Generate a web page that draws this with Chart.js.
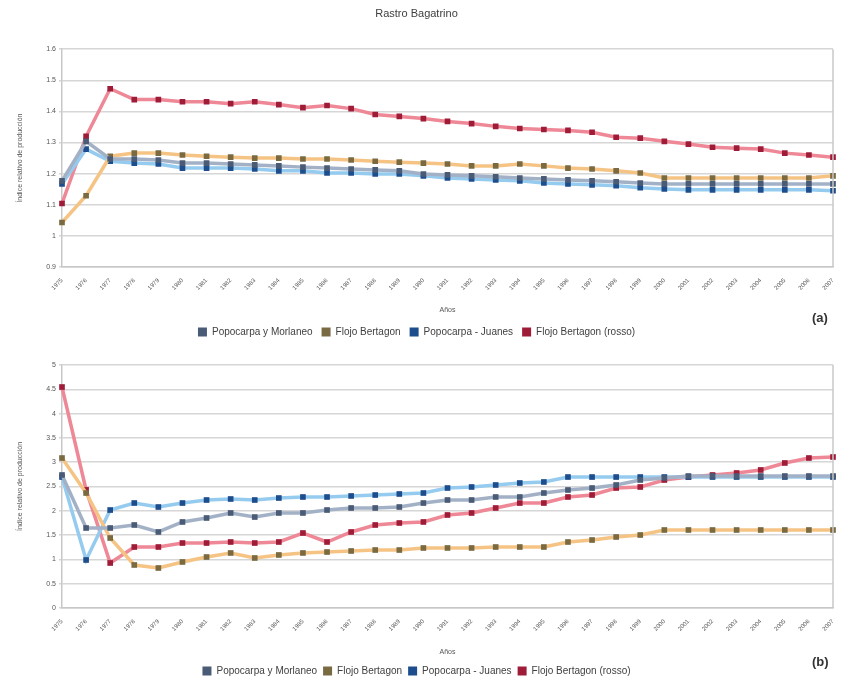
<!DOCTYPE html>
<html>
<head>
<meta charset="utf-8">
<script src="https://cdn.jsdelivr.net/npm/chart.js@4.4.1/dist/chart.umd.min.js"></script>
<style>
    html, body { margin: 0; padding: 0; background: #fff; overflow: hidden; width: 845px; height: 679px; }
    .wrap { position: absolute; left: 0; width: 845px; }
    #w1 { top: 0; height: 347px; }
    #w2 { top: 347px; height: 339px; }
    .tag { position: absolute; font: bold 13px "Liberation Sans", Arial, sans-serif; color: #333; }
</style>
</head>
<body>
<div class="wrap" id="w1"><canvas id="chart-a" width="845" height="347"></canvas></div>
<div class="wrap" id="w2"><canvas id="chart-b" width="845" height="339"></canvas></div>
<div class="tag" style="left:812px;top:310px">(a)</div>
<div class="tag" style="left:812px;top:654px">(b)</div>

<script>
// Categories (years on the x axis)
const years = [
    '1975', '1976', '1977', '1978', '1979', '1980', '1981', '1982', '1983', '1984', '1985',
    '1986', '1987', '1988', '1989', '1990', '1991', '1992', '1993', '1994', '1995', '1996',
    '1997', '1998', '1999', '2000', '2001', '2002', '2003', '2004', '2005', '2006', '2007'
];

const seriesNames = [
    'Popocarpa y Morlaneo',
    'Flojo Bertagon',
    'Popocarpa - Juanes',
    'Flojo Bertagon (rosso)'
];

// Panel (a)
const topGreyBlue = [1.177, 1.304, 1.247, 1.247, 1.244, 1.234, 1.234, 1.231, 1.228, 1.225, 1.221,
    1.218, 1.215, 1.212, 1.209, 1.199, 1.196, 1.193, 1.19, 1.186, 1.183, 1.18,
    1.177, 1.174, 1.17, 1.167, 1.167, 1.167, 1.167, 1.167, 1.167, 1.167, 1.167];
const topOrange = [1.043, 1.129, 1.256, 1.266, 1.266, 1.26, 1.256, 1.253, 1.25, 1.25, 1.247,
    1.247, 1.244, 1.24, 1.237, 1.234, 1.231, 1.225, 1.225, 1.231, 1.225, 1.218,
    1.215, 1.209, 1.202, 1.186, 1.186, 1.186, 1.186, 1.186, 1.186, 1.186, 1.193];
const topBlue = [1.167, 1.279, 1.24, 1.234, 1.231, 1.218, 1.218, 1.218, 1.215, 1.209, 1.209,
    1.202, 1.202, 1.199, 1.199, 1.193, 1.186, 1.183, 1.18, 1.177, 1.17, 1.167,
    1.164, 1.161, 1.155, 1.151, 1.148, 1.148, 1.148, 1.148, 1.148, 1.148, 1.145];
const topRed = [1.104, 1.32, 1.473, 1.438, 1.438, 1.431, 1.431, 1.425, 1.431, 1.422, 1.412,
    1.419, 1.409, 1.39, 1.384, 1.377, 1.368, 1.361, 1.352, 1.345, 1.342, 1.339,
    1.333, 1.317, 1.314, 1.304, 1.295, 1.285, 1.282, 1.279, 1.266, 1.26, 1.253];

// Panel (b)
const botGreyBlue = [2.737, 1.646, 1.646, 1.708, 1.564, 1.77, 1.852, 1.955, 1.872, 1.955, 1.955,
    2.016, 2.058, 2.058, 2.078, 2.16, 2.222, 2.222, 2.284, 2.284, 2.366, 2.428,
    2.469, 2.531, 2.634, 2.675, 2.716, 2.716, 2.716, 2.716, 2.716, 2.716, 2.716];
const botOrange = [3.086, 2.366, 1.44, 0.885, 0.823, 0.947, 1.049, 1.132, 1.029, 1.091, 1.132,
    1.152, 1.173, 1.193, 1.193, 1.235, 1.235, 1.235, 1.255, 1.255, 1.255, 1.358,
    1.399, 1.461, 1.502, 1.605, 1.605, 1.605, 1.605, 1.605, 1.605, 1.605, 1.605];
const botBlue = [2.695, 0.988, 2.016, 2.16, 2.078, 2.16, 2.222, 2.243, 2.222, 2.263, 2.284,
    2.284, 2.305, 2.325, 2.346, 2.366, 2.469, 2.49, 2.531, 2.572, 2.593, 2.695,
    2.695, 2.695, 2.695, 2.695, 2.695, 2.695, 2.695, 2.695, 2.695, 2.695, 2.695];
const botRed = [4.547, 2.43, 0.926, 1.255, 1.255, 1.337, 1.337, 1.358, 1.337, 1.358, 1.543,
    1.358, 1.564, 1.708, 1.749, 1.77, 1.914, 1.955, 2.058, 2.16, 2.16, 2.284,
    2.325, 2.469, 2.49, 2.634, 2.695, 2.737, 2.778, 2.84, 2.984, 3.086, 3.107];

// Y axis ranges
const topAxis = { min: 0.9, max: 1.6, step: 0.1 };
const botAxis = { min: 0, max: 5, step: 0.5 };

const FONT = '"Liberation Sans", Arial, sans-serif';
const lineColors = ['#a3b1c6', '#f5c485', '#95cbee', '#ee8796'];
const markColors = ['#4a5b76', '#7a6a42', '#1d4d8c', '#9e1c38'];

/**
 * Draws the right edge of the plot frame
 */
const frameRight = {
    id: 'frameRight',
    afterDraw(chart) {
        const { ctx, chartArea } = chart;
        ctx.save();
        ctx.strokeStyle = '#c8c8c8';
        ctx.lineWidth = 1.5;
        ctx.beginPath();
        ctx.moveTo(chartArea.right, chartArea.top);
        ctx.lineTo(chartArea.right, chartArea.bottom);
        ctx.stroke();
        ctx.restore();
    }
};

function buildDatasets(values) {
    return values.map((data, i) => ({
        label: seriesNames[i],
        data: data,
        borderColor: lineColors[i],
        backgroundColor: markColors[i],
        borderWidth: 3.5,
        pointStyle: 'rect',
        pointRadius: 4,
        pointBackgroundColor: markColors[i],
        pointBorderColor: markColors[i],
        pointBorderWidth: 0,
        tension: 0
    }));
}

function makeChart(id, values, axis, cfg) {
    new Chart(document.getElementById(id), {
        type: 'line',
        data: { labels: years, datasets: buildDatasets(values) },
        plugins: [frameRight],
        options: {
            responsive: false,
            animation: false,
            layout: { padding: { top: cfg.padTop, right: 12, left: 0, bottom: 0 } },
            plugins: {
                title: {
                    display: !!cfg.title,
                    text: cfg.title,
                    color: '#404040',
                    font: { family: FONT, size: 11, weight: 'normal' },
                    padding: { top: 7, bottom: 29 }
                },
                legend: {
                    position: 'bottom',
                    labels: {
                        usePointStyle: true,
                        pointStyle: 'rect',
                        boxWidth: 9,
                        boxHeight: 9,
                        padding: cfg.legendPad,
                        color: '#404040',
                        font: { family: FONT, size: 10 }
                    }
                },
                tooltip: { enabled: false }
            },
            scales: {
                x: {
                    offset: false,
                    grid: { display: false },
                    border: { display: true, color: '#c8c8c8', width: 1.5 },
                    ticks: {
                        minRotation: 45,
                        maxRotation: 45,
                        autoSkip: false,
                        color: '#555',
                        padding: 2,
                        font: { family: FONT, size: 6 }
                    },
                    title: {
                        display: true,
                        text: 'Años',
                        color: '#555',
                        font: { family: FONT, size: 7 },
                        padding: { top: 0, bottom: 4 }
                    },
                    afterFit: s => { s.height = cfg.xHeight; }
                },
                y: {
                    min: axis.min,
                    max: axis.max,
                    grid: { color: '#d6d6d6', lineWidth: 1.5, drawTicks: true, tickLength: 3 },
                    border: { display: true, color: '#c8c8c8', width: 1.5 },
                    ticks: {
                        stepSize: axis.step,
                        color: '#555',
                        padding: 3,
                        font: { family: FONT, size: 7 },
                        callback: v => String(Math.round(v * 100) / 100)
                    },
                    title: {
                        display: true,
                        text: 'Índice relativo de producción',
                        color: '#555',
                        font: { family: FONT, size: 7 },
                        padding: { top: 16, bottom: 0 }
                    },
                    afterFit: s => { s.width = 62; }
                }
            }
        }
    });
}

makeChart('chart-a', [topGreyBlue, topOrange, topBlue, topRed], topAxis,
    { title: 'Rastro Bagatrino', padTop: 0, legendPad: 9, xHeight: 51 });
makeChart('chart-b', [botGreyBlue, botOrange, botBlue, botRed], botAxis,
    { title: '', padTop: 18, legendPad: 6, xHeight: 52 });
</script>
</body>
</html>
